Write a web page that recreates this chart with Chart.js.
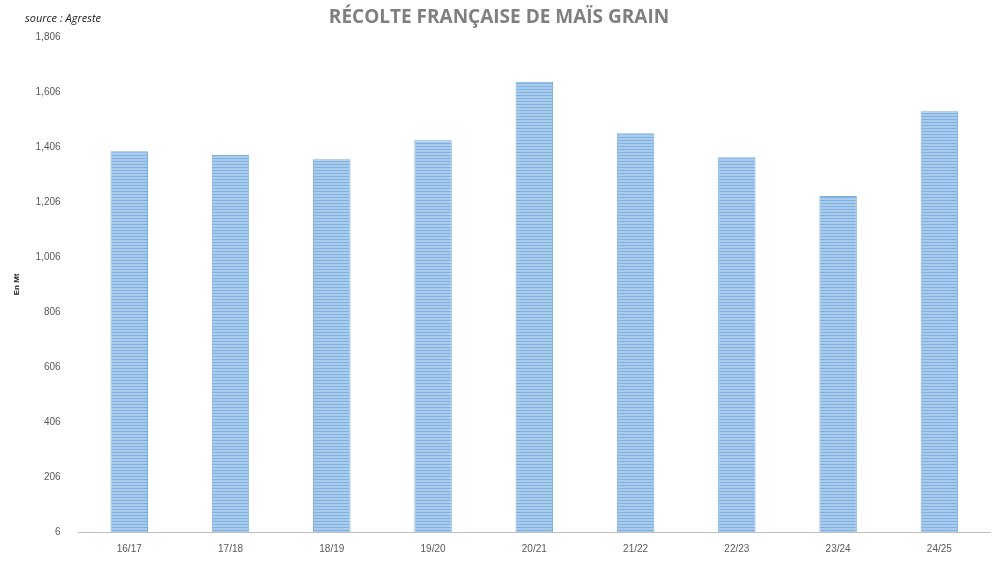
<!DOCTYPE html>
<html><head><meta charset="utf-8">
<script src="https://cdn.jsdelivr.net/npm/chart.js@4"></script>
<style>
body{margin:0;background:#fff;font-family:"Open Sans",sans-serif}
#wrap{position:relative;width:1000px;height:562px}
#src{position:absolute;left:25px;top:10px;font-size:11px;font-style:italic;color:#222}
</style></head>
<body><div id="wrap"><div id="src">source : Agreste</div><canvas id="c" width="1000" height="562"></canvas></div>
<script>
// Données
const categories = ['16/17','17/18','18/19','19/20','20/21','21/22','22/23','23/24','24/25'];
const recolte = [1390, 1376, 1361, 1430, 1643, 1455, 1368, 1227, 1535];

// motif rayé des barres
function stripes() {
    const p = document.createElement('canvas');
    p.width = 4; p.height = 3;
    const g = p.getContext('2d');
    g.fillStyle = '#a9cbec'; g.fillRect(0, 0, 4, 3);
    g.fillStyle = '#7fb0e0'; g.fillRect(0, 2, 4, 1);
    return g.createPattern(p, 'repeat');
}

new Chart(document.getElementById('c'), {
    type: 'bar',
    data: {
        labels: categories,
        datasets: [{
            data: recolte,
            backgroundColor: stripes(),
            borderColor: '#7aaede',
            borderWidth: 1,
            barPercentage: 0.37,
            categoryPercentage: 1
        }]
    },
    options: {
        responsive: false,
        animation: false,
        layout: { padding: { left: 8, right: 10, top: 4, bottom: 4 } },
        plugins: {
            legend: { display: false },
            tooltip: { enabled: false },
            title: {
                display: true,
                text: 'RÉCOLTE FRANÇAISE DE MAÏS GRAIN',
                color: '#7f7f7f',
                font: { size: 19, weight: 'bold', family: 'Open Sans' },
                padding: { top: 2, bottom: 8 }
            }
        },
        scales: {
            x: {
                grid: { display: false },
                border: { color: '#bfbfbf' },
                ticks: { color: '#595959', font: { size: 10 } }
            },
            y: {
                min: 6, max: 1806,
                ticks: { stepSize: 200, color: '#595959', font: { size: 10 }, padding: 10 },
                grid: { display: false },
                border: { display: false },
                title: { display: true, text: 'En Mt', color: '#222', font: { size: 8, weight: 'bold' } }
            }
        }
    }
});
</script></body></html>
